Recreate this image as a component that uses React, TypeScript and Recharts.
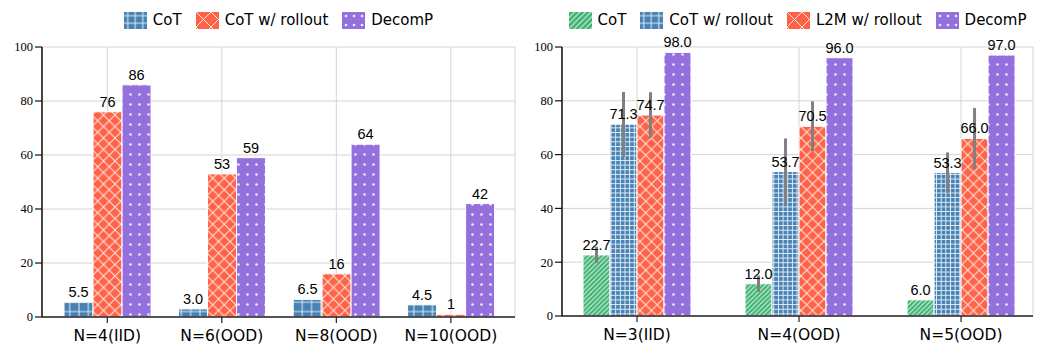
import React from "react";
import {
  Bar,
  BarChart,
  CartesianGrid,
  ErrorBar,
  LabelList,
  Legend,
  XAxis,
  YAxis,
} from "recharts";

// left panel
const leftCategories = ["N=4(IID)", "N=6(OOD)", "N=8(OOD)", "N=10(OOD)"];
const leftCot = [5.5, 3.0, 6.5, 4.5];
const leftCotRollout = [76, 53, 16, 1];
const leftDecomp = [86, 59, 64, 42];

// right panel
const rightCategories = ["N=3(IID)", "N=4(OOD)", "N=5(OOD)"];
const rightCot = [22.7, 12.0, 6.0];
const rightCotErr = [3, 3, 0];
const rightCotRollout = [71.3, 53.7, 53.3];
const rightCotRolloutErr = [12, 12.3, 7.5];
const rightL2m = [74.7, 70.5, 66.0];
const rightL2mErr = [8.5, 9.3, 11.3];
const rightDecomp = [98.0, 96.0, 97.0];

const yTicks = [0, 20, 40, 60, 80, 100];

const BLUE = "#4682B4";
const ORANGE = "#FF6347";
const PURPLE = "#9370DB";
const GREEN = "#3CB371";

type HatchKind = "grid" | "cross" | "dots" | "slash";

interface Series {
  key: string;
  err?: string;
  name: string;
  color: string;
  hatch: HatchKind;
  period: number;
  legendPeriod: number;
  digits: number;
}

const leftSeries: Series[] = [
  { key: "cot", name: "CoT", color: BLUE, hatch: "grid", period: 9.3, legendPeriod: 7.5, digits: 1 },
  { key: "cotRollout", name: "CoT w/ rollout", color: ORANGE, hatch: "cross", period: 11.5, legendPeriod: 15, digits: 0 },
  { key: "decomp", name: "DecomP", color: PURPLE, hatch: "dots", period: 9, legendPeriod: 8, digits: 0 },
];

const rightSeries: Series[] = [
  { key: "cot", err: "cotErr", name: "CoT", color: GREEN, hatch: "slash", period: 4.65, legendPeriod: 5.5, digits: 1 },
  { key: "cotRollout", err: "cotRolloutErr", name: "CoT w/ rollout", color: BLUE, hatch: "grid", period: 4.65, legendPeriod: 7.5, digits: 1 },
  { key: "l2m", err: "l2mErr", name: "L2M w/ rollout", color: ORANGE, hatch: "cross", period: 11.5, legendPeriod: 15, digits: 1 },
  { key: "decomp", name: "DecomP", color: PURPLE, hatch: "dots", period: 9, legendPeriod: 8, digits: 1 },
];

const leftRows = leftCategories.map((name, i) => ({
  x: i,
  name,
  cot: leftCot[i],
  cotRollout: leftCotRollout[i],
  decomp: leftDecomp[i],
}));

const rightRows = rightCategories.map((name, i) => ({
  x: i,
  name,
  cot: rightCot[i],
  cotErr: rightCotErr[i],
  cotRollout: rightCotRollout[i],
  cotRolloutErr: rightCotRolloutErr[i],
  l2m: rightL2m[i],
  l2mErr: rightL2mErr[i],
  decomp: rightDecomp[i],
}));

function Hatch({ id, kind, color, p }: { id: string; kind: HatchKind; color: string; p: number }) {
  const line = { stroke: "#fff", strokeWidth: 1, strokeOpacity: 0.85, fill: "none" };
  let marks: React.ReactNode = null;
  if (kind === "grid") {
    marks = <path d={`M0 ${p / 2}H${p}M${p / 2} 0V${p}`} {...line} />;
  } else if (kind === "cross") {
    marks = <path d={`M0 0L${p} ${p}M${p} 0L0 ${p}`} {...line} strokeLinecap="square" />;
  } else if (kind === "slash") {
    marks = (
      <path
        d={`M0 ${p}L${p} 0M${-p / 2} ${p / 2}L${p / 2} ${-p / 2}M${p / 2} ${p * 1.5}L${p * 1.5} ${p / 2}`}
        {...line}
      />
    );
  } else {
    marks = <circle cx={p / 2} cy={p / 2} r={1.3} fill="#fff" fillOpacity={0.85} />;
  }
  const h = kind === "dots" ? p + 1 : p;
  return (
    <pattern id={id} patternUnits="userSpaceOnUse" width={p} height={h}>
      <rect width={p} height={h} fill={color} />
      {marks}
    </pattern>
  );
}

function LegendRow({ series, prefix }: { series: Series[]; prefix: string }) {
  return (
    <div
      style={{
        display: "flex",
        justifyContent: "center",
        alignItems: "center",
        fontFamily: "DejaVu Sans",
        fontSize: 15,
        lineHeight: "18px",
        color: "#000",
      }}
    >
      {series.map((s, i) => (
        <div key={s.key} style={{ display: "flex", alignItems: "center", marginLeft: i ? 14 : 0 }}>
          <svg width={23} height={17}>
            <defs>
              <Hatch id={`${prefix}-leg-${s.key}`} kind={s.hatch} color={s.color} p={s.legendPeriod} />
            </defs>
            <rect width={23} height={17} fill={`url(#${prefix}-leg-${s.key})`} />
          </svg>
          <span style={{ marginLeft: 6 }}>{s.name}</span>
        </div>
      ))}
    </div>
  );
}

interface PanelProps {
  prefix: string;
  rows: any[];
  series: Series[];
  categories: string[];
  domain: [number, number];
  yAxisWidth: number;
  marginRight: number;
  xAxisHeight: number;
  barSize: number;
}

function Panel({ prefix, rows, series, categories, domain, yAxisWidth, marginRight, xAxisHeight, barSize }: PanelProps) {
  const plotWidth = 525 - yAxisWidth - marginRight;
  return (
    <BarChart
      width={525}
      height={348}
      data={rows}
      margin={{ top: 47, right: marginRight, bottom: 0, left: 0 }}
      barGap={0}
      style={{ fontFamily: "DejaVu Sans" }}
    >
      <defs>
        {series.map((s) => (
          <Hatch key={s.key} id={`${prefix}-${s.key}`} kind={s.hatch} color={s.color} p={s.period} />
        ))}
      </defs>
      <CartesianGrid stroke="#d4d4d4" strokeWidth={1} />
      <XAxis
        type="number"
        dataKey="x"
        domain={domain}
        ticks={categories.map((_, i) => i)}
        interval={0}
        allowDataOverflow
        tickFormatter={(v: number) => categories[v] ?? ""}
        height={xAxisHeight}
        tickSize={6}
        tickMargin={7}
        axisLine={{ stroke: "#222", strokeWidth: 1.5 }}
        tickLine={{ stroke: "#222", strokeWidth: 1.2 }}
        tick={{ fill: "#000", fontSize: 15.5, fontFamily: "DejaVu Sans" }}
      />
      <YAxis
        domain={[0, 100]}
        ticks={yTicks}
        width={yAxisWidth}
        tickSize={7}
        tickMargin={2}
        axisLine={{ stroke: "#111", strokeWidth: 1.5 }}
        tickLine={{ stroke: "#111", strokeWidth: 1.2 }}
        tick={{ fill: "#000", fontSize: 12.5, fontFamily: "Liberation Serif" }}
      />
      <Legend
        layout="horizontal"
        verticalAlign="middle"
        align="center"
        wrapperStyle={{ top: 11, left: yAxisWidth, width: plotWidth, height: 18 }}
        content={() => <LegendRow series={series} prefix={prefix} />}
      />
      {series.map((s) => (
        <Bar
          key={s.key}
          dataKey={s.key}
          name={s.name}
          fill={`url(#${prefix}-${s.key})`}
          stroke="#fff"
          strokeWidth={1}
          barSize={barSize}
          isAnimationActive={false}
        >
          {s.err && <ErrorBar dataKey={s.err} width={0} strokeWidth={3} stroke="#808080" direction="y" />}
          <LabelList
            dataKey={s.key}
            position="top"
            offset={5}
            formatter={(v: any) => Number(v).toFixed(s.digits)}
            fill="#000"
            fontSize={14.5}
            fontFamily="Liberation Sans"
          />
        </Bar>
      ))}
    </BarChart>
  );
}

export default function App() {
  return (
    <div style={{ position: "absolute", left: 0, top: 0, width: 1050, height: 348, background: "#fff", display: "flex" }}>
      <Panel
        prefix="l"
        rows={leftRows}
        series={leftSeries}
        categories={leftCategories}
        domain={[-0.57, 3.56]}
        yAxisWidth={42}
        marginRight={10}
        xAxisHeight={31}
        barSize={29}
      />
      <Panel
        prefix="r"
        rows={rightRows}
        series={rightSeries}
        categories={rightCategories}
        domain={[-0.463, 2.444]}
        yAxisWidth={37}
        marginRight={17}
        xAxisHeight={32}
        barSize={27}
      />
    </div>
  );
}
